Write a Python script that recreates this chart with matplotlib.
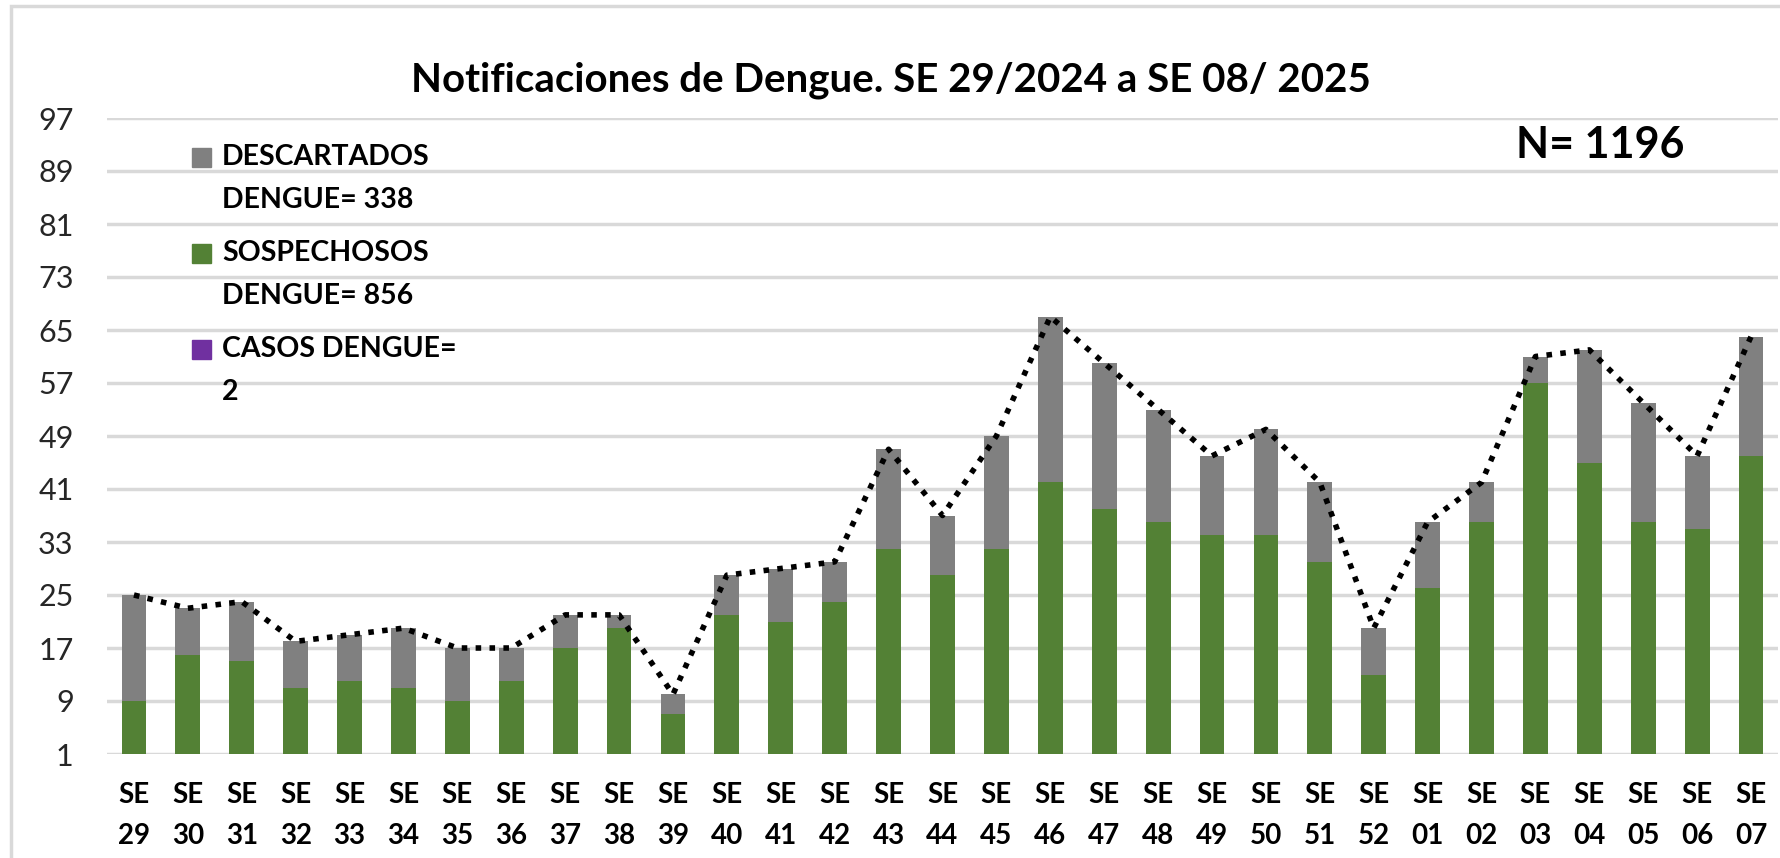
import matplotlib

matplotlib.use("Agg")
import matplotlib.pyplot as plt
from matplotlib.patches import Rectangle

# weeks SE 29/2024 .. SE 07/2025
weeks = ["29", "30", "31", "32", "33", "34", "35", "36", "37", "38", "39", "40",
         "41", "42", "43", "44", "45", "46", "47", "48", "49", "50", "51", "52",
         "01", "02", "03", "04", "05", "06", "07"]
sospechosos = [9, 16, 15, 11, 12, 11, 9, 12, 17, 20, 7, 22, 21, 24, 32, 28,
               32, 42, 38, 36, 34, 34, 30, 13, 26, 36, 57, 45, 36, 35, 46]
descartados = [16, 7, 9, 7, 7, 9, 8, 5, 5, 2, 3, 6, 8, 6, 15, 9,
               17, 25, 22, 17, 12, 16, 12, 7, 10, 6, 4, 17, 18, 11, 18]
casos = [0] * len(weeks)
totals = [s + d + c for s, d, c in zip(sospechosos, descartados, casos)]

y_ticks = list(range(1, 98, 8))
legend_labels = ["DESCARTADOS\nDENGUE= 338", "SOSPECHOSOS\nDENGUE= 856", "CASOS DENGUE=\n2"]
title = "Notificaciones de Dengue. SE 29/2024 a SE 08/ 2025"
n_label = "N= 1196"

GREEN = "#538135"
GREY = "#808080"
PURPLE = "#7030a0"
GRID = "#d9d9d9"

plt.rcParams["font.family"] = ["Lato", "DejaVu Sans"]

fig = plt.figure(figsize=(17.8, 8.58), dpi=100)
fig.patches.append(Rectangle((11 / 1780, -0.05), 1.1, 0.05 + 1 - 6 / 858,
                             transform=fig.transFigure, fill=False,
                             edgecolor=GRID, linewidth=2.5))
ax = fig.add_axes([107 / 1780, 1 - 754 / 858, 1671 / 1780, (754 - 118) / 858])

x = list(range(len(weeks)))
base = y_ticks[0]
width = 0.46
ax.bar(x, [s - base for s in sospechosos], width, bottom=base, color=GREEN, zorder=2)
ax.bar(x, descartados, width, bottom=sospechosos, color=GREY, zorder=2)
ax.bar(x, casos, width, bottom=totals, color=PURPLE, zorder=2)
ax.plot(x, totals, color="black", linestyle=(0, (1, 1.5)), linewidth=4,
        dash_capstyle="butt", zorder=3)

ax.set_xlim(-0.5, len(weeks) - 0.5)
ax.set_ylim(y_ticks[0], y_ticks[-1])
ax.set_yticks(y_ticks)
ax.set_yticklabels([str(v) for v in y_ticks], fontsize=22, color="#262626")
ax.set_xticks(x)
ax.set_xticklabels([f"SE\n{w}" for w in weeks], fontsize=20, fontweight="bold",
                   linespacing=1.72)
ax.tick_params(length=0, axis="y", pad=24)
ax.tick_params(length=0, axis="x", pad=20)
ax.grid(axis="y", color=GRID, linewidth=2.5, zorder=0)
for s in ax.spines.values():
    s.set_visible(False)

fig.text(891 / 1780, 1 - 80 / 858, title, ha="center", va="center",
         fontsize=29, fontweight="bold")
fig.text(1600 / 1780, 1 - 145 / 858, n_label, ha="center", va="center",
         fontsize=31, fontweight="bold")

# legend drawn by hand to keep the two-line layout
for i, (lab, col) in enumerate(zip(legend_labels, [GREY, GREEN, PURPLE])):
    y0 = 1 - (157 + i * 96) / 858
    fig.patches.append(Rectangle((192 / 1780, y0 - 9.5 / 858), 19 / 1780, 19 / 858,
                                 transform=fig.transFigure, color=col))
    fig.text(222 / 1780, y0 + 13 / 858, lab, ha="left", va="top",
             fontsize=20.5, fontweight="bold", linespacing=1.8)

fig.savefig("out.png", dpi=100)
